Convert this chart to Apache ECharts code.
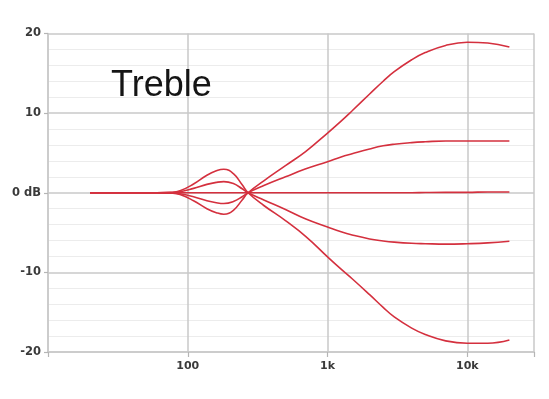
<!DOCTYPE html>
<html>
<head>
<meta charset="utf-8">
<script src="https://cdn.jsdelivr.net/npm/echarts@6/dist/echarts.min.js"></script>
<style>html,body{margin:0;padding:0;background:#fff}#c{width:549px;height:399px}</style>
</head>
<body>
<div id="c"></div>
<script>
// Frequencies (Hz)
const freqs    = [20, 40, 60, 75, 88, 110, 137, 160, 181, 212, 245, 270, 350, 500, 700, 1000, 1250, 1500, 2000, 2500, 3000, 4000, 5000, 7000, 10000, 14000, 20000];
// Response curves (dB)
const boostMax = [0, 0, 0, -0.05, -0.22, -1.0, -2.0, -2.5, -2.7, -2.2, -0.9, 0, 1.5, 3.4, 5.2, 7.5, 9.0, 10.3, 12.4, 14.0, 15.2, 16.7, 17.6, 18.5, 18.9, 18.8, 18.3];
const boostMid = [0, 0, 0, -0.02, -0.12, -0.5, -1.0, -1.25, -1.35, -1.1, -0.5, 0, 0.9, 2.0, 3.0, 3.9, 4.5, 4.9, 5.5, 5.9, 6.1, 6.3, 6.4, 6.5, 6.5, 6.5, 6.5];
const flat     = [0, 0, 0, 0, 0, 0, 0, 0, 0, 0, 0, 0, 0, 0, 0, 0, 0, 0, 0, 0, 0, 0, 0.03, 0.05, 0.05, 0.1, 0.1];
const cutMid   = [0, 0, 0, 0.02, 0.12, 0.55, 1.05, 1.3, 1.4, 1.15, 0.5, 0, -0.9, -2.1, -3.3, -4.3, -4.9, -5.3, -5.8, -6.05, -6.2, -6.35, -6.4, -6.45, -6.4, -6.3, -6.1];
const cutMax   = [0, 0, 0, 0.05, 0.25, 1.1, 2.2, 2.75, 2.95, 2.4, 1.0, 0, -1.6, -3.5, -5.5, -8.05, -9.6, -10.8, -12.8, -14.4, -15.6, -17.0, -17.8, -18.6, -18.9, -18.9, -18.5];
// Axis settings / labels
const xMin = 10, xMax = 30000;
const halfDecadeLines = [30, 300, 3000, 30000];
const xLabels = {100: '100', 1000: '1k', 10000: '10k'};
const yLabels = {20: '20', 10: '10', 0: '0 dB', '-10': '-10', '-20': '-20'};
const titleText = 'Treble';

const RED = '#d4303e';
const curves = [boostMax, boostMid, flat, cutMid, cutMax];
const series = curves.map((vals) => ({
  type: 'line',
  data: freqs.map((f, k) => [f, vals[k]]),
  smooth: 0.45,
  symbol: 'none',
  lineStyle: {color: RED, width: 1.6},
  z: 5
}));
series.push({
  type: 'line',
  data: [],
  silent: true,
  markLine: {
    symbol: 'none',
    silent: true,
    label: {show: false},
    lineStyle: {color: '#c9c9c9', width: 1.5, type: 'solid'},
    data: halfDecadeLines.map(v => [{coord: [v, -20.7]}, {coord: [v, 20]}])
  }
});

const chart = echarts.init(document.getElementById('c'), null, {renderer: 'canvas'});
chart.setOption({
  animation: false,
  backgroundColor: '#fff',
  title: {
    text: titleText,
    left: 106, top: 63,
    textStyle: {fontFamily: 'Liberation Sans', fontSize: 36, fontWeight: 'normal', color: '#151515', lineHeight: 36}
  },
  grid: {left: 48, right: 15, top: 33.5, bottom: 47},
  xAxis: {
    type: 'log', logBase: 10, min: xMin, max: xMax,
    axisLine: {show: true, onZero: false, lineStyle: {color: '#c9c9c9', width: 1.5}},
    axisTick: {show: true, length: 5, lineStyle: {color: '#b5b5b5', width: 1.2}},
    axisLabel: {
      margin: 9,
      fontFamily: 'DejaVu Sans', fontSize: 11, fontWeight: 'bold', color: '#3a3a3a',
      formatter: v => xLabels[Math.round(v)] || ''
    },
    splitLine: {show: true, lineStyle: {color: '#c9c9c9', width: 1.5}}
  },
  yAxis: {
    type: 'value', min: -20, max: 20, interval: 10,
    axisLine: {show: true, lineStyle: {color: '#c9c9c9', width: 1.5}},
    axisTick: {show: true, length: 4, lineStyle: {color: '#b5b5b5', width: 1.2}},
    axisLabel: {
      margin: 7,
      fontFamily: 'DejaVu Sans', fontSize: 11.5, fontWeight: 'bold', color: '#3a3a3a',
      formatter: v => yLabels[String(Math.round(v))] || ''
    },
    splitLine: {show: true, lineStyle: {color: '#c9c9c9', width: 1.5}},
    minorTick: {show: false, splitNumber: 5},
    minorSplitLine: {show: true, lineStyle: {color: '#ececec', width: 1}}
  },
  series: series
});
</script>
</body>
</html>
